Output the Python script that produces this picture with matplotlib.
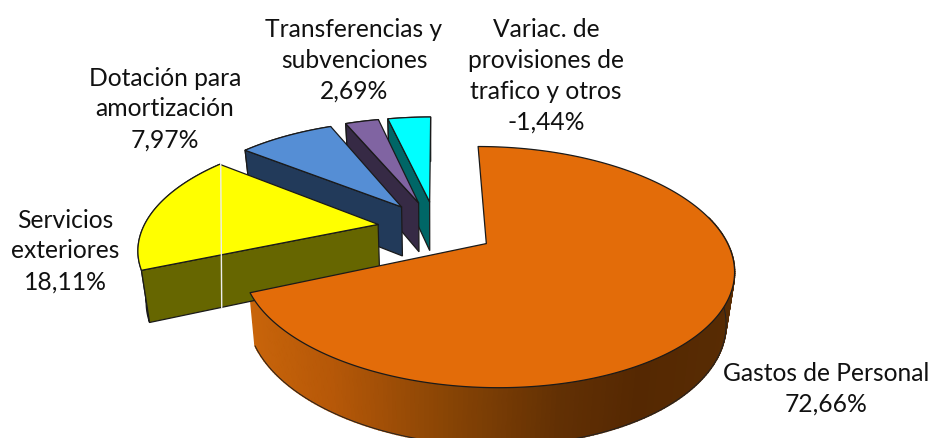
import numpy as np
import matplotlib
matplotlib.use("Agg")
import matplotlib.pyplot as plt
from matplotlib.patches import Polygon

# data
categories = ["Gastos de Personal", "Servicios\nexteriores", "Dotación para\namortización",
              "Transferencias y\nsubvenciones", "Variac. de\nprovisiones de\ntrafico y otros"]
value_labels = ["72,66%", "18,11%", "7,97%", "2,69%", "-1,44%"]
# slice sizes as they appear drawn (percent of the circle)
drawn_shares = [68.6, 17.0, 8.0, 2.8, 3.6]

top_colors = ["#E36C09", "#FFFF00", "#558ED5", "#8064A2", "#00FFFF"]
side_colors = [None, "#666600", "#223A5A", "#362A45", "#006666"]
label_pos = [(826, 389), (65, 251), (165, 109), (354, 60), (546, 76)]

# projection settings
CX, CY, A, B, K = 436.0, 228.0, 235.0, 110.0, 0.19
EXPLODE = 0.25

def proj(u, v):
    d = 1 + K * v
    return CX + A * u / d, CY - B * v / d

def drop(x, y):
    return x + (432.0 - x) * 0.028, y + 49 + 0.05 * (y - 207)

fig = plt.figure(figsize=(9.3, 4.38), dpi=100)
ax = fig.add_axes([0, 0, 1, 1])
ax.set_xlim(0, 930)
ax.set_ylim(438, 0)
ax.axis("off")

edges = np.concatenate([[0], np.cumsum(drawn_shares)]) / 100 * 2 * np.pi
grad_x = [250, 330, 450, 560, 640, 735]
grad_rgb = np.array([[200, 100, 10], [182, 88, 8], [135, 68, 5], [98, 48, 4], [85, 40, 2], [88, 44, 3]]) / 255
LW = 0.9
EDGE = "#1a1a1a"

for i in reversed(range(5)):
    t1, t2 = edges[i], edges[i + 1]
    mid = (t1 + t2) / 2
    u0, v0 = EXPLODE * np.sin(mid), EXPLODE * np.cos(mid)
    ts = np.linspace(t1, t2, 260 if i == 0 else 60)
    x, y = proj(u0 + np.sin(ts), v0 + np.cos(ts))
    ax_, ay_ = proj(u0, v0)
    bx, by = drop(x, y)
    abx, aby = drop(ax_, ay_)
    if i == 0:
        # outer wall with horizontal shading, only where it faces the viewer
        vis = np.cos(ts) < 0.25
        idx = np.where(vis)[0]
        # solid underlay so neighbouring strips leave no seams
        ax.add_patch(Polygon(np.r_[np.c_[x[vis], y[vis]], np.c_[bx[vis], by[vis]][::-1]], closed=True,
                             fc="#7A3C05", ec="none", zorder=9))
        for j in idx[:-1]:
            c = [np.interp((x[j] + x[j + 1]) / 2, grad_x, grad_rgb[:, k]) for k in range(3)]
            ax.add_patch(Polygon([(x[j], y[j]), (x[j + 1], y[j + 1]), (bx[j + 1], by[j + 1]), (bx[j], by[j])],
                                 closed=True, fc=c, ec=c, lw=1.2, zorder=10))
        ax.plot(bx[vis], by[vis], color="#222222", lw=0.7, zorder=11)
    else:
        # outer wall and the visible cut face
        ax.add_patch(Polygon(np.r_[np.c_[x, y], np.c_[bx, by][::-1]], closed=True,
                             fc=side_colors[i], ec=EDGE, lw=LW, zorder=20 - i * 3))
        ax.add_patch(Polygon([(x[0], y[0]), (ax_, ay_), (abx, aby), (bx[0], by[0])], closed=True,
                             fc=side_colors[i], ec=EDGE, lw=LW, zorder=21 - i * 3))
    ax.add_patch(Polygon(np.r_[[(ax_, ay_)], np.c_[x, y]], closed=True, fc=top_colors[i], ec=EDGE, lw=LW,
                         zorder=22 - i * 3 if i else 30, joinstyle="round"))
    if i == 1:
        # thin white line crossing the yellow slice at its upper corner
        ax.plot([x[-1] + 1, x[-1] + 2], [y[-1], 308], color="#EEEEEE", lw=1.0, zorder=23 - i * 3)

for name, val, (px, py) in zip(categories, value_labels, label_pos):
    ax.text(px, py, name + "\n" + val, ha="center", va="center", family="Lato", fontsize=17.7,
            color="#111111", linespacing=1.42, zorder=40)

fig.savefig("out.png", dpi=100)
